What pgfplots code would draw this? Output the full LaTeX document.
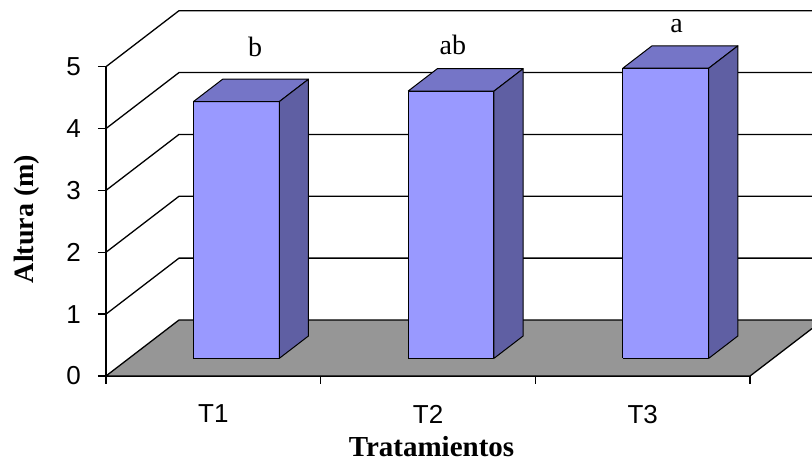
\documentclass[border=0pt]{standalone}
\usepackage{fontspec}
\setmainfont{Liberation Serif}
\newfontfamily\arialf{Liberation Sans}
\usepackage{pgfplots}
\pgfplotsset{compat=1.18}
\usepackage{pgfplotstable}

\definecolor{barfront}{RGB}{153,153,255}
\definecolor{bartop}{RGB}{117,117,199}
\definecolor{barside}{RGB}{95,95,163}
\definecolor{floorgray}{RGB}{150,150,150}

% bar heights (Altura, m)
\def\vA{4.15}
\def\vB{4.32}
\def\vC{4.69}
% oblique depth vector (full depth) in axis units
\def\dX{0.340}
\def\dY{0.905}
% bar front / back depth fractions and bar width
\def\fa{0.315}
\def\fb{0.715}
\def\bw{0.4}

\pgfplotstableread{
u h d
0 0 0
1 0 0
1 1 0
0 1 0
0 0 0
}\frontface
\pgfplotstableread{
u h d
0 1 0
1 1 0
1 1 1
0 1 1
0 1 0
}\topface
\pgfplotstableread{
u h d
1 0 0
1 0 1
1 1 1
1 1 0
1 0 0
}\sideface

\newcommand\drawbar[2]{%
  \addplot[fill=barfront, draw=black, line width=0.5pt, line join=round]
    table[x expr={#1-\bw/2+\thisrow{u}*\bw+(\fa+\thisrow{d}*(\fb-\fa))*\dX},
          y expr={\thisrow{h}*#2+(\fa+\thisrow{d}*(\fb-\fa))*\dY}] {\frontface};
  \addplot[fill=bartop, draw=black, line width=0.5pt, line join=round]
    table[x expr={#1-\bw/2+\thisrow{u}*\bw+(\fa+\thisrow{d}*(\fb-\fa))*\dX},
          y expr={\thisrow{h}*#2+(\fa+\thisrow{d}*(\fb-\fa))*\dY}] {\topface};
  \addplot[fill=barside, draw=black, line width=0.5pt, line join=round]
    table[x expr={#1-\bw/2+\thisrow{u}*\bw+(\fa+\thisrow{d}*(\fb-\fa))*\dX},
          y expr={\thisrow{h}*#2+(\fa+\thisrow{d}*(\fb-\fa))*\dY}] {\sideface};
}

\begin{document}
\begin{tikzpicture}
\begin{axis}[
  x=107.35pt, y=30.93pt,
  xmin=0, xmax=3, ymin=0, ymax=5,
  clip=false,
  axis x line*=bottom, axis y line*=left,
  axis line style={black, line width=0.65pt},
  ytick={0,1,2,3,4,5},
  xtick={0.5,1.5,2.5},
  xticklabels={T1,T2,T3},
  xtick style={draw=none},
  ytick style={black, line width=0.65pt},
  tick align=outside,
  major tick length=4pt,
  /pgf/number format/assume math mode=true,
  tick label style={font=\arialf\fontsize{13}{15}\selectfont},
  yticklabel style={anchor=east, xshift=-5pt},
  xticklabel style={anchor=north, yshift=-7pt},
  ylabel={Altura (m)},
  ylabel style={at={(axis description cs:-0.1230,0.5076)}, anchor=center,
                font=\bfseries\fontsize{14}{16}\selectfont},
  xlabel={Tratamientos},
  xlabel style={at={(axis description cs:0.5054,-0.2619)}, anchor=base,
                font=\bfseries\fontsize{14.5}{16}\selectfont},
]
% side wall and back wall gridlines
\addplot[black, line width=0.65pt] coordinates {(0,1) (0.34,1.905) (3.2883,1.905)};
\addplot[black, line width=0.65pt] coordinates {(0,2) (0.34,2.905) (3.2883,2.905)};
\addplot[black, line width=0.65pt] coordinates {(0,3) (0.34,3.905) (3.2883,3.905)};
\addplot[black, line width=0.65pt] coordinates {(0,4) (0.34,4.905) (3.2883,4.905)};
\addplot[black, line width=0.65pt] coordinates {(0,5) (0.34,5.905) (3.2883,5.905)};
% floor
\addplot[fill=floorgray, draw=none] coordinates {(0,0) (0.34,0.905) (3.2883,0.905) (3.2883,0.767) (3,0) (0,0)};
\addplot[black, line width=0.65pt, line join=round] coordinates {(3.2883,0.767) (3,0) (0,0) (0.34,0.905) (3.2883,0.905)};
% x tick marks
\addplot[black, line width=0.65pt] coordinates {(0,0) (0,-0.129)};
\addplot[black, line width=0.65pt] coordinates {(1,0) (1,-0.129)};
\addplot[black, line width=0.65pt] coordinates {(2,0) (2,-0.129)};
\addplot[black, line width=0.65pt] coordinates {(3,0) (3,-0.129)};
% bars
\drawbar{0.5}{\vA}
\drawbar{1.5}{\vB}
\drawbar{2.5}{\vC}
% significance letters
\node[anchor=base, font=\fontsize{14}{16}\selectfont] at (axis cs:0.694,5.157) {b};
\node[anchor=base, font=\fontsize{14}{16}\selectfont] at (axis cs:1.616,5.189) {ab};
\node[anchor=base, font=\fontsize{14}{16}\selectfont] at (axis cs:2.657,5.545) {a};
\coordinate (BL) at (axis cs:-0.4937,-1.390);
\coordinate (TR) at (axis cs:3.2883,6.078);
\end{axis}
\pgfresetboundingbox
\path[use as bounding box] (BL) rectangle (TR);
\end{tikzpicture}
\end{document}
